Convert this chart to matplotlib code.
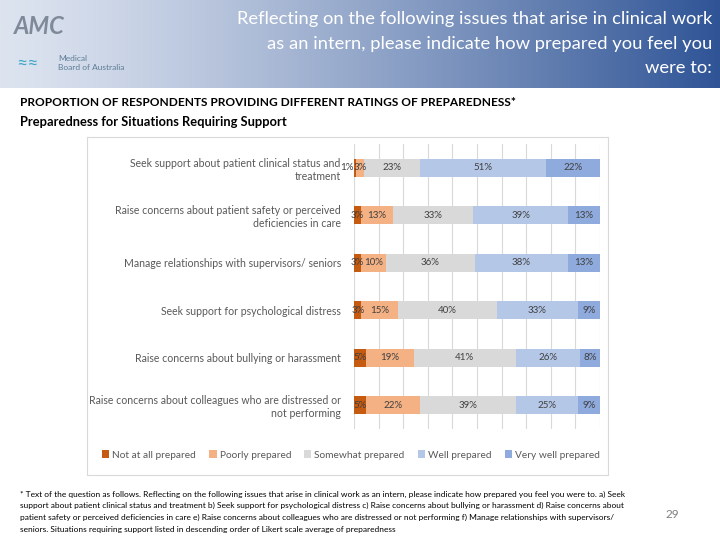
import numpy as np
import matplotlib.pyplot as plt
from matplotlib.patches import Rectangle

# ----- Data ----- #
situations = [
    "Seek support about patient clinical status and\ntreatment",
    "Raise concerns about patient safety or perceived\ndeficiencies in care",
    "Manage relationships with supervisors/ seniors",
    "Seek support for psychological distress",
    "Raise concerns about bullying or harassment",
    "Raise concerns about colleagues who are distressed or\nnot performing",
]
ratings = ["Not at all prepared", "Poorly prepared", "Somewhat prepared",
           "Well prepared", "Very well prepared"]
not_at_all = [1, 3, 3, 3, 5, 5]
poorly = [3, 13, 10, 15, 19, 22]
somewhat = [23, 33, 36, 40, 41, 39]
well = [51, 39, 38, 33, 26, 25]
very_well = [22, 13, 13, 9, 8, 9]

colors = ["#C55A11", "#F4B183", "#D9D9D9", "#B4C7E7", "#8FAADC"]

title = ("Reflecting on the following issues that arise in clinical work\n"
         "as an intern, please indicate how prepared you feel you\n"
         "were to:")
footnote = [
    "* Text of the question as follows. Reflecting on the following issues that arise in clinical work as an intern, please indicate how prepared you feel you were to. a) Seek",
    "support about patient clinical status and treatment b) Seek support for psychological distress c) Raise concerns about bullying or harassment d) Raise concerns about",
    "patient safety or perceived deficiencies in care e) Raise concerns about colleagues who are distressed or not performing f) Manage relationships with supervisors/",
    "seniors. Situations requiring support listed in descending order of Likert scale average of preparedness",
]

plt.rcParams['font.family'] = ['Lato', 'DejaVu Sans']

fig = plt.figure(figsize=(7.2, 5.4), dpi=100)
fig.patch.set_facecolor('white')

# ----- Header band with gradient ----- #
hdr = fig.add_axes([0, 1 - 88 / 540, 1, 88 / 540])
t = np.linspace(0, 1, 400) ** 1.25
left = np.array([221, 228, 240]) / 255
right = np.array([47, 84, 150]) / 255
grad = left[None, :] * (1 - t[:, None]) + right[None, :] * t[:, None]
hdr.imshow(grad[None, :, :], aspect='auto', extent=[0, 1, 0, 1])
hdr.set_axis_off()
for n, line in enumerate(title.split("\n")):
    fig.text(712 / 720, 1 - (19 + n * 24.5) / 540, line, ha='right', va='center',
             color='white', fontsize=13.2)
# rough stand-ins for the logos
fig.text(14 / 720, 1 - 26 / 540, "AMC", color='#7f8a99', fontsize=17,
         fontweight='bold', fontstyle='italic', va='center')
fig.text(58 / 720, 1 - 63 / 540, "Medical\nBoard of Australia", color='#5d7c96',
         fontsize=6, va='center', linespacing=1.2)
fig.text(16 / 720, 1 - 63 / 540, "\u2248\u2248", color='#3fa9c4', fontsize=14,
         va='center')

# ----- Subtitle ----- #
fig.text(20 / 720, 1 - 103 / 540,
         "PROPORTION OF RESPONDENTS PROVIDING DIFFERENT RATINGS OF PREPAREDNESS*",
         fontsize=8.6, fontweight='bold', va='center', color='black')
fig.text(20 / 720, 1 - 122 / 540, "Preparedness for Situations Requiring Support",
         fontsize=9.3, fontweight='bold', va='center', color='black')

# chart frame
fig.patches.append(Rectangle((87 / 720, 1 - 475 / 540), 521 / 720, 338 / 540,
                             transform=fig.transFigure, fill=False,
                             edgecolor='#D9D9D9', linewidth=0.8))

# ----- Stacked bars ----- #
ax = fig.add_axes([354 / 720, 1 - 429 / 540, 246 / 720, 285 / 540])
series = np.array([not_at_all, poorly, somewhat, well, very_well], dtype=float)
totals = series.sum(axis=0)
widths = series / totals * 100  # bars fill the full width as in the source
lefts = np.cumsum(widths, axis=0) - widths
y = np.arange(len(situations))
for i, name in enumerate(ratings):
    ax.barh(y, widths[i], left=lefts[i], height=0.375, color=colors[i],
            label=name, zorder=2)

# value labels, nudged left when two small segments would collide
char_w = 2.5  # rough label width per character, in % of the axis
for j in range(len(situations)):
    texts = [f"{int(series[i][j])}%" for i in range(len(ratings))]
    pos = list(lefts[:, j] + widths[:, j] / 2)
    for k in range(len(pos) - 2, -1, -1):
        need = char_w * (len(texts[k]) + len(texts[k + 1])) / 2 + 0.4
        if pos[k + 1] - pos[k] < need:
            pos[k] = pos[k + 1] - need
    for i in range(len(ratings)):
        ax.text(pos[i], y[j], texts[i], ha='center', va='center',
                fontsize=7, color='#404040', zorder=3, clip_on=False)

ax.set_xlim(0, 100)
ax.set_ylim(len(situations) - 0.5, -0.5)
ax.set_xticks(np.arange(0, 101, 10))
ax.set_xticklabels([])
ax.tick_params(axis='x', length=0)
ax.tick_params(axis='y', length=0, pad=9.5)
ax.set_yticks(y)
ax.set_yticklabels(situations, fontsize=7.6, color='#595959')
ax.grid(axis='x', color='#D9D9D9', linewidth=0.8, zorder=0)
for s in ax.spines.values():
    s.set_visible(False)
ax.set_facecolor('none')

handles, labels = ax.get_legend_handles_labels()
fig.legend(handles, labels, loc='center', bbox_to_anchor=(351 / 720, 1 - 455 / 540),
           ncol=5, frameon=False, fontsize=7.3, handlelength=0.7, handleheight=0.7,
           handletextpad=0.3, columnspacing=1.3, labelcolor='#595959')

# ----- Footnote and page number ----- #
for k, line in enumerate(footnote):
    fig.text(20 / 720, 1 - (494 + k * 11.8) / 540, line, fontsize=6,
             va='center', color='black')
fig.text(672 / 720, 1 - 515 / 540, "29", fontsize=8.5, color='#7f7f7f',
         ha='center', va='center')

plt.savefig("out.png", dpi=100)
